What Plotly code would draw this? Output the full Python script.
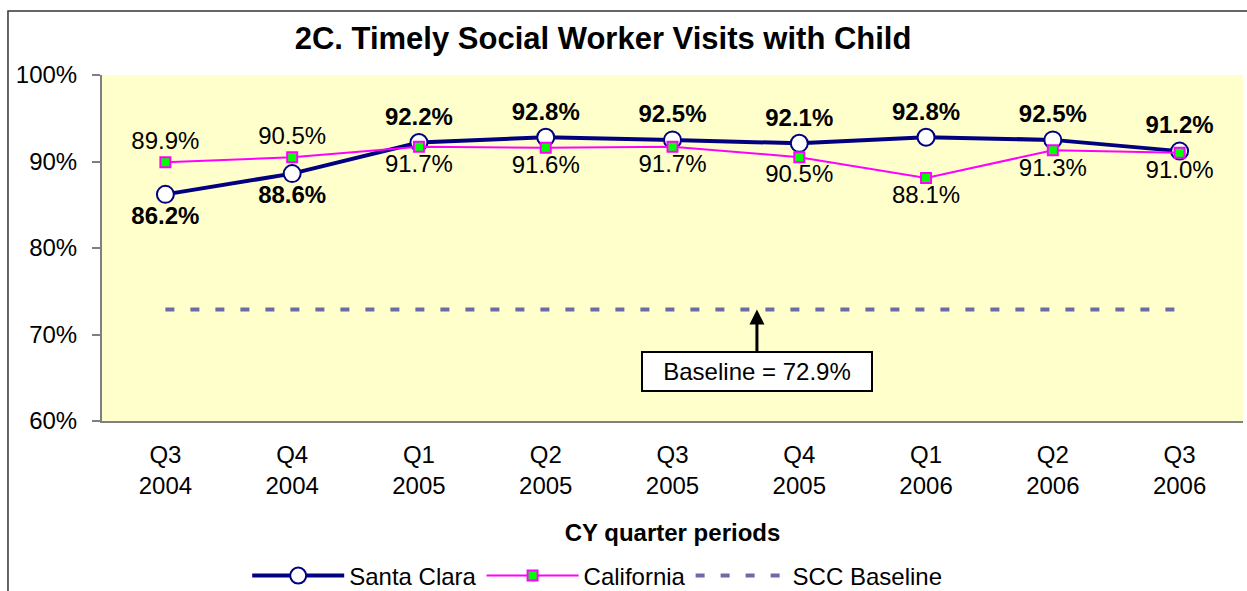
import plotly.graph_objects as go

quarters = ["Q3<br>2004", "Q4<br>2004", "Q1<br>2005", "Q2<br>2005", "Q3<br>2005",
            "Q4<br>2005", "Q1<br>2006", "Q2<br>2006", "Q3<br>2006"]
santa_clara = [86.2, 88.6, 92.2, 92.8, 92.5, 92.1, 92.8, 92.5, 91.2]
california = [89.9, 90.5, 91.7, 91.6, 91.7, 90.5, 88.1, 91.3, 91.0]
baseline_value = 72.9
scc_baseline = [baseline_value] * len(quarters)
y_ticks = [60, 70, 80, 90, 100]

FONT = "Liberation Sans, Arial, sans-serif"

sc_pos = ["top center" if s >= c else "bottom center" for s, c in zip(santa_clara, california)]
ca_pos = ["bottom center" if s >= c else "top center" for s, c in zip(santa_clara, california)]

fig = go.Figure()
fig.add_trace(go.Scatter(
    x=quarters, y=santa_clara, name="Santa Clara", mode="lines+markers+text",
    line=dict(color="#000080", width=4),
    marker=dict(symbol="circle", size=17, color="white", line=dict(color="#000080", width=2)),
    texttemplate="<b>%{y:.1f}%</b>", textposition=sc_pos,
    textfont=dict(family=FONT, size=24, color="black"),
    cliponaxis=False,
))
fig.add_trace(go.Scatter(
    x=quarters, y=california, name="California", mode="lines+markers+text",
    line=dict(color="#FF00FF", width=2),
    marker=dict(symbol="square", size=10, color="#00FF00", line=dict(color="#FF00FF", width=2)),
    texttemplate="%{y:.1f}%", textposition=ca_pos,
    textfont=dict(family=FONT, size=24, color="black"),
    cliponaxis=False,
))
fig.add_trace(go.Scatter(
    x=quarters, y=scc_baseline, name="SCC Baseline", mode="lines",
    line=dict(color="#6B6BA8", width=4, dash="9px,16px"),
))

fig.add_annotation(
    x=4.666, y=baseline_value, xref="x", yref="y",
    text="Baseline = 72.9%", showarrow=True, arrowhead=2, arrowsize=1, arrowwidth=3,
    arrowcolor="black", ax=0, ay=62, bgcolor="white", bordercolor="black",
    borderwidth=2, borderpad=4, width=220, height=29,
    font=dict(family=FONT, size=24, color="black"),
)

# outer chart frame
fig.add_shape(type="rect", xref="paper", yref="paper", x0=-0.0824, x1=1.2, y0=-1.0, y1=1.185,
              line=dict(color="#333333", width=1.5), fillcolor="rgba(0,0,0,0)", layer="below")

fig.update_layout(
    width=1247, height=591,
    margin=dict(l=102, r=4, t=75, b=170),
    paper_bgcolor="white", plot_bgcolor="#FFFFCC",
    font=dict(family=FONT, size=24, color="black"),
    title=dict(text="<b>2C. Timely Social Worker Visits with Child</b>", x=0.4836, xanchor="center",
               y=1 - 38 / 591, yanchor="middle", font=dict(family=FONT, size=31, color="black")),
    showlegend=True,
    legend=dict(orientation="h", x=0.434, xanchor="center",
                yref="container", y=1 - 576 / 591, yanchor="middle",
                font=dict(family=FONT, size=24, color="black"), bgcolor="rgba(0,0,0,0)",
                itemwidth=92),
    xaxis=dict(
        type="category", showline=True, linecolor="#808080", linewidth=2, showgrid=False,
        ticks="", tickfont=dict(family=FONT, size=24, color="black"), ticklabelstandoff=11,
        title=dict(text="<b>CY quarter periods</b>", font=dict(family=FONT, size=24, color="black"),
                   standoff=26),
        range=[-0.5, len(quarters) - 0.5],
    ),
    yaxis=dict(
        range=[60, 100], tickvals=y_ticks, ticktext=[f"{v}%" for v in y_ticks],
        showline=True, linecolor="#808080", linewidth=2, showgrid=False, zeroline=False,
        ticks="outside", ticklen=8, tickcolor="#808080", tickwidth=2, ticklabelstandoff=10,
        tickfont=dict(family=FONT, size=24, color="black"),
    ),
)

fig.write_html("out.html", config={"displayModeBar": False},
               post_script="document.body.style.margin='0';document.body.style.overflow='hidden';")
